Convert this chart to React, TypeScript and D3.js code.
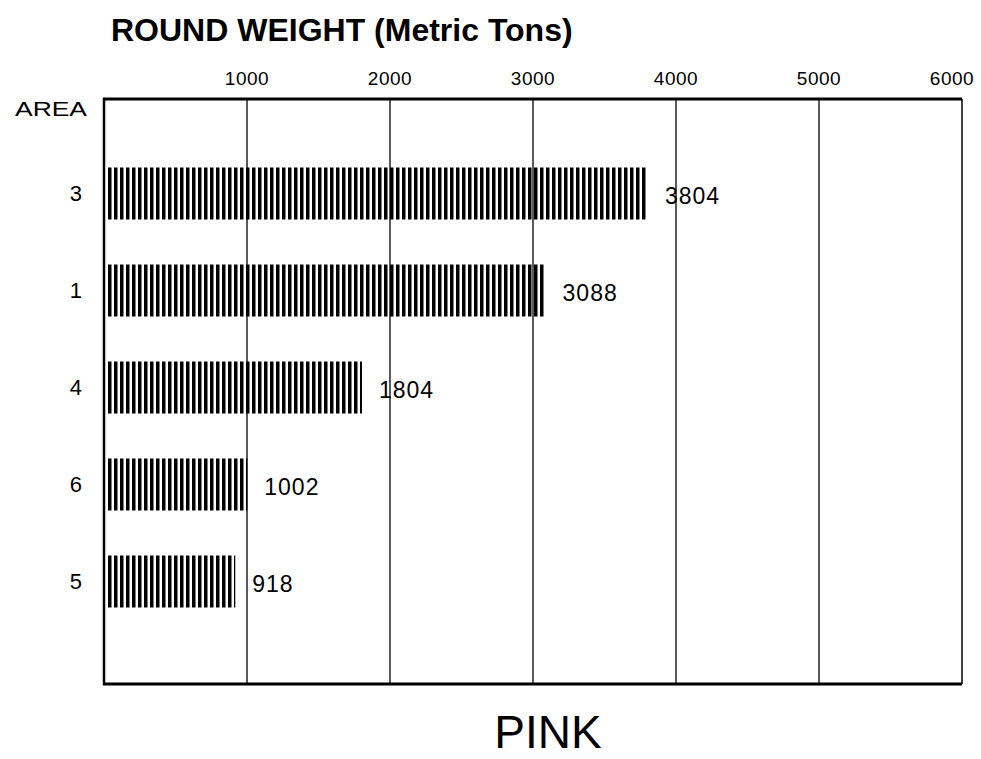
import React from "react";
import * as d3 from "d3";

const areas = ["3", "1", "4", "6", "5"];
const weights = [3804, 3088, 1804, 1002, 918];
const tickValues = [1000, 2000, 3000, 4000, 5000, 6000];
const title = "ROUND WEIGHT (Metric Tons)";
const species = "PINK";

const W = 981;
const H = 759;
const plot = { left: 104, right: 962, top: 99, bottom: 684 };
const font = "'Liberation Sans', Arial, sans-serif";

export default function App() {
  const x = d3.scaleLinear().domain([0, 6000]).range([plot.left, plot.right]);
  const y = d3.scalePoint<string>().domain(areas).range([193.5, 581.5]);
  const barH = 52;

  return (
    <svg
      width={W}
      height={H}
      style={{ position: "absolute", left: 0, top: 0, background: "#fff" }}
    >
      <defs>
        <pattern id="stripes" width={6} height={10} patternUnits="userSpaceOnUse">
          <rect x={0} y={0} width={3.5} height={10} fill="#000" />
        </pattern>
      </defs>
      <text x={111} y={41} fontFamily={font} fontWeight="bold" fontSize={32} fill="#000">
        {title}
      </text>
      {tickValues.map((t) => (
        <text
          key={"tl" + t}
          x={Math.min(x(t), 952)}
          y={85}
          textAnchor="middle"
          fontFamily={font}
          fontSize={19}
          letterSpacing={0.5}
          fill="#000"
        >
          {t}
        </text>
      ))}
      <text
        x={15}
        y={116}
        fontFamily={font}
        fontSize={21}
        textLength={72}
        lengthAdjust="spacingAndGlyphs"
        fill="#000"
      >
        AREA
      </text>
      {tickValues.slice(0, 5).map((t) => (
        <line
          key={"g" + t}
          x1={x(t)}
          x2={x(t)}
          y1={plot.top}
          y2={plot.bottom}
          stroke="#000"
          strokeWidth={1.3}
        />
      ))}
      <line x1={plot.right} x2={plot.right} y1={plot.top} y2={plot.bottom} stroke="#000" strokeWidth={1.5} />
      <line x1={plot.left} x2={plot.left} y1={plot.top - 1} y2={plot.bottom + 1} stroke="#000" strokeWidth={2.5} />
      <line x1={plot.left - 1} x2={plot.right} y1={plot.top} y2={plot.top} stroke="#000" strokeWidth={3} />
      <line x1={plot.left - 1} x2={plot.right} y1={plot.bottom} y2={plot.bottom} stroke="#000" strokeWidth={3} />
      {areas.map((a, i) => {
        const cy = y(a)!;
        const x0 = x(0) + 4;
        const x1 = x(weights[i]);
        return (
          <g key={a}>
            <rect x={x0} y={cy - barH / 2} width={x1 - x0} height={barH} fill="url(#stripes)" />
            <text
              x={82}
              y={cy + 7}
              textAnchor="end"
              fontFamily={font}
              fontSize={22}
              fill="#000"
            >
              {a}
            </text>
            <text
              x={x1 + 17}
              y={cy + 10}
              fontFamily={font}
              fontSize={23}
              letterSpacing={1}
              fill="#000"
            >
              {weights[i]}
            </text>
          </g>
        );
      })}
      <text
        x={548}
        y={748}
        textAnchor="middle"
        fontFamily={font}
        fontSize={46}
        fill="#000"
      >
        {species}
      </text>
    </svg>
  );
}
